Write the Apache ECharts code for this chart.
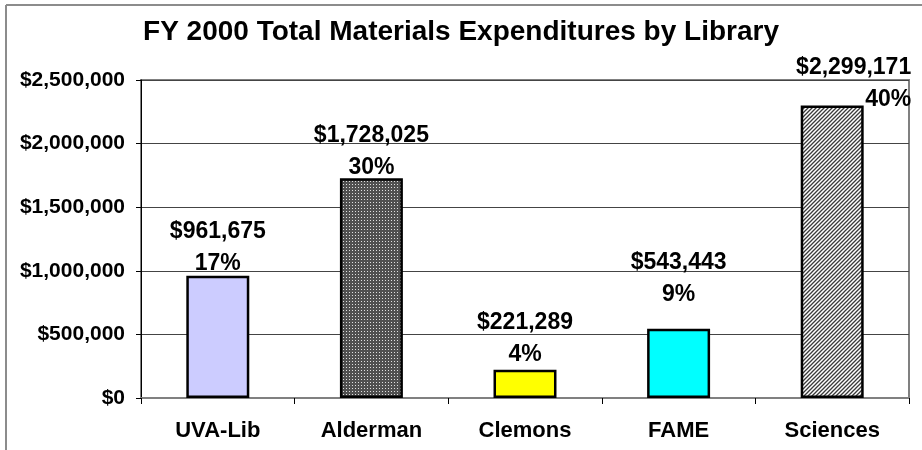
<!DOCTYPE html>
<html lang="en">
<head>
	<meta charset="UTF-8">
	<title>FY 2000 Total Materials Expenditures by Library</title>
	<script src="https://cdn.jsdelivr.net/npm/echarts@6/dist/echarts.min.js"></script>
	<style>
		* { margin: 0; padding: 0; }
		body { background: #fff; }
		#container { width: 922px; height: 450px; }
	</style>
</head>
<body>
<div id="container"></div>
<script type="text/javascript">
	// data
	var libraries = ['UVA-Lib', 'Alderman', 'Clemons', 'FAME', 'Sciences'];
	var expenditures = [961675, 1728025, 221289, 543443, 2299171];
	var shares = ['17%', '30%', '4%', '9%', '40%'];
	var yTicks = [0, 500000, 1000000, 1500000, 2000000, 2500000];

	// label placement, tweaked per bar like the excel original
	var labelOffsets = [[0, 4], [0, 5], [0, 1], [0, -18], [79, 10]];
	var labelAligns = ['center', 'center', 'center', 'center', 'right'];

	var font = 'Liberation Sans, Arial, sans-serif';

	// fill patterns
	function dotPattern() {
		var c = document.createElement('canvas');
		c.width = 3; c.height = 3;
		var ctx = c.getContext('2d');
		ctx.fillStyle = '#505050';
		ctx.fillRect(0, 0, 3, 3);
		ctx.fillStyle = '#e0e0e0';
		ctx.fillRect(1, 1, 1, 1);
		return c;
	}
	function stripePattern() {
		var c = document.createElement('canvas');
		c.width = 4; c.height = 4;
		var ctx = c.getContext('2d');
		ctx.fillStyle = '#ffffff';
		ctx.fillRect(0, 0, 4, 4);
		ctx.strokeStyle = '#3a3a3a';
		ctx.lineWidth = 1.3;
		ctx.beginPath();
		ctx.moveTo(-1, 5); ctx.lineTo(5, -1);
		ctx.moveTo(-1, 1); ctx.lineTo(1, -1);
		ctx.moveTo(3, 5); ctx.lineTo(5, 3);
		ctx.stroke();
		return c;
	}

	var fills = [
		'#ccccff',
		{ image: dotPattern(), repeat: 'repeat' },
		'#ffff00',
		'#00ffff',
		{ image: stripePattern(), repeat: 'repeat' }
	];

	function money(v) {
		return '$' + v.toLocaleString('en-US');
	}

	var barData = expenditures.map(function (v, i) {
		return {
			value: v,
			itemStyle: { color: fills[i] },
			label: { offset: labelOffsets[i], align: labelAligns[i] }
		};
	});

	var myChart = echarts.init(document.getElementById('container'));

	var option = {
		animation: false,
		backgroundColor: '#fff',
		title: {
			text: 'FY 2000 Total Materials Expenditures by Library',
			left: 'center',
			top: 13,
			textStyle: { fontFamily: font, fontWeight: 'bold', fontSize: 28, color: '#000' }
		},
		graphic: [
			{ type: 'line', shape: { x1: 6, y1: 5, x2: 922, y2: 5 }, style: { stroke: '#8c8c8c', lineWidth: 2 } },
			{ type: 'line', shape: { x1: 6, y1: 5, x2: 6, y2: 450 }, style: { stroke: '#8c8c8c', lineWidth: 2 } }
		],
		grid: {
			left: 141,
			right: 13,
			top: 80,
			bottom: 52,
			show: true,
			borderColor: '#808080',
			borderWidth: 2
		},
		xAxis: {
			type: 'category',
			data: libraries,
			axisLine: { lineStyle: { color: '#808080', width: 2 } },
			axisTick: { show: true, length: 6, lineStyle: { color: '#000' } },
			axisLabel: {
				margin: 22,
				fontFamily: font, fontWeight: 'bold', fontSize: 22, color: '#000'
			}
		},
		yAxis: {
			type: 'value',
			min: 0,
			max: yTicks[yTicks.length - 1],
			interval: yTicks[1] - yTicks[0],
			axisLine: { show: true, lineStyle: { color: '#000', width: 1 } },
			axisTick: { show: true, length: 5, lineStyle: { color: '#000' } },
			splitLine: { lineStyle: { color: '#444', width: 1 } },
			axisLabel: {
				margin: 16,
				fontFamily: font, fontWeight: 'bold', fontSize: 21, color: '#000',
				formatter: money
			}
		},
		series: [{
			type: 'bar',
			data: barData,
			barWidth: '41%',
			itemStyle: { borderColor: '#000', borderWidth: 2.5 },
			label: {
				show: true,
				position: 'top',
				distance: 0,
				color: '#000',
				fontFamily: font,
				fontWeight: 'bold',
				fontSize: 23,
				lineHeight: 32,
				formatter: function (p) {
					return money(p.value) + '\n' + shares[p.dataIndex];
				}
			}
		}]
	};

	myChart.setOption(option);
</script>
</body>
</html>
